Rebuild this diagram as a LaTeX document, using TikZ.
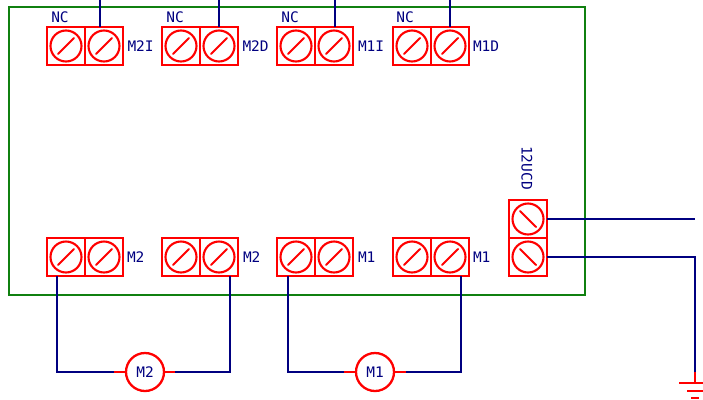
\documentclass[tikz,border=0pt]{standalone}
\usepackage{fontspec}
\setmainfont{DejaVu Sans Mono}
\definecolor{wire}{HTML}{000080}
\definecolor{board}{HTML}{108010}
\definecolor{part}{HTML}{FF0000}
\tikzset{
  x=1pt,y=-1pt,
  every node/.style={inner sep=0pt,outer sep=0pt},
  cellbase/.style={draw=part,line width=2.5pt,minimum size=38pt,anchor=north west},
  cellf/.style={cellbase,path picture={
     \draw[part,line width=2.1pt] (path picture bounding box.center) circle[radius=15.5];
     \draw[part,line width=2.1pt,line cap=round] ([shift={(-8,8)}]path picture bounding box.center) -- ([shift={(8,-8)}]path picture bounding box.center);}},
  cellb/.style={cellbase,path picture={
     \draw[part,line width=2.1pt] (path picture bounding box.center) circle[radius=15.5];
     \draw[part,line width=2.1pt,line cap=round] ([shift={(-8,-8)}]path picture bounding box.center) -- ([shift={(8,8)}]path picture bounding box.center);}},
  lab/.style={text=wire,font=\fontsize{14.5}{16}\selectfont},
  wireline/.style={draw=wire,line width=2.2pt},
  stub/.style={draw=part,line width=2.2pt},
  motor/.style={circle,draw=part,line width=2.3pt,minimum size=38pt,text=wire,font=\fontsize{14.5}{16}\selectfont},
  gnd/.style={draw=part,line width=2.2pt},
}
\begin{document}
\begin{tikzpicture}
\useasboundingbox (0,0) rectangle (703,399);
\clip (0,0) rectangle (703,399);
\node[draw=board,line width=2.3pt,minimum width=576pt,minimum height=288pt,anchor=north west] (pcb) at (9,7) {};
% top row
\node[cellf] (ta1) at (47,27) {};  \node[cellf] (ta2) at (85,27) {};
\node[cellf] (tb1) at (162,27) {}; \node[cellf] (tb2) at (200,27) {};
\node[cellf] (tc1) at (277,27) {}; \node[cellf] (tc2) at (315,27) {};
\node[cellf] (td1) at (393,27) {}; \node[cellf] (td2) at (431,27) {};
% bottom row
\node[cellf] (ba1) at (47,238) {};  \node[cellf] (ba2) at (85,238) {};
\node[cellf] (bb1) at (162,238) {}; \node[cellf] (bb2) at (200,238) {};
\node[cellf] (bc1) at (277,238) {}; \node[cellf] (bc2) at (315,238) {};
\node[cellf] (bd1) at (393,238) {}; \node[cellf] (bd2) at (431,238) {};
% power
\node[cellb] (p1) at (509,200) {};
\node[cellb] (p2) at (509,238) {};
% labels
\node[lab] (nca) at (60,17) {NC};
\node[lab] (ncb) at (175,17) {NC};
\node[lab] (ncc) at (290,17) {NC};
\node[lab] (ncd) at (405,17) {NC};
\node[lab,anchor=west] (la) at (127.5,46) {M2I};
\node[lab,anchor=west] (lb) at (242.5,46) {M2D};
\node[lab,anchor=west] (lc) at (358,46) {M1I};
\node[lab,anchor=west] (ld) at (473,46) {M1D};
\node[lab,anchor=west] (lba) at (127,257) {M2};
\node[lab,anchor=west] (lbb) at (243,257) {M2};
\node[lab,anchor=west] (lbc) at (358,257) {M1};
\node[lab,anchor=west] (lbd) at (473,257) {M1};
\node[lab,rotate=-90] (lp) at (527,168) {12UCD};
% motors
\node[motor] (m2) at (145,372) {M2};
\node[motor] (m1) at (375,372) {M1};
% free ends
\coordinate (ea) at (100,0);
\coordinate (eb) at (219,0);
\coordinate (ec) at (335,0);
\coordinate (ed) at (450,0);
\coordinate (ep1) at (695,218);
\coordinate (ep2) at (695,372);
\coordinate (g) at (695,383);
\coordinate (m2l) at (114,372);
\coordinate (m2r) at (175,372);
\coordinate (m1l) at (344,372);
\coordinate (m1r) at (406,372);
% wires
\draw[wireline] (ea) -- (ea |- ta2.north);
\draw[wireline] (eb) -- (eb |- tb2.north);
\draw[wireline] (ec) -- (ec |- tc2.north);
\draw[wireline] (ed) -- (ed |- td2.north);
\draw[wireline] ([xshift=-9pt]ba1.south) -- ([xshift=-9pt]ba1.south |- m2l) -- (m2l);
\draw[wireline] ([xshift=11pt]bb2.south) -- ([xshift=11pt]bb2.south |- m2r) -- (m2r);
\draw[wireline] ([xshift=-8pt]bc1.south) -- ([xshift=-8pt]bc1.south |- m1l) -- (m1l);
\draw[wireline] ([xshift=11pt]bd2.south) -- ([xshift=11pt]bd2.south |- m1r) -- (m1r);
\draw[wireline] (p1.east) -- (p1.east -| ep1);
\draw[wireline] (p2.east) -- (p2.east -| ep2) -- (ep2);
% red stubs
\draw[stub] (m2.west) -- (m2l);
\draw[stub] (m2.east) -- (m2r);
\draw[stub] (m1.west) -- (m1l);
\draw[stub] (m1.east) -- (m1r);
\draw[stub] (ep2) -- (g);
% ground
\draw[gnd] ([xshift=-16pt]g) -- ([xshift=16pt]g);
\draw[gnd] ([shift={(-8,8)}]g) -- ([shift={(8,8)}]g);
\draw[gnd] ([shift={(-4,15)}]g) -- ([shift={(4,15)}]g);
\end{tikzpicture}
\end{document}
